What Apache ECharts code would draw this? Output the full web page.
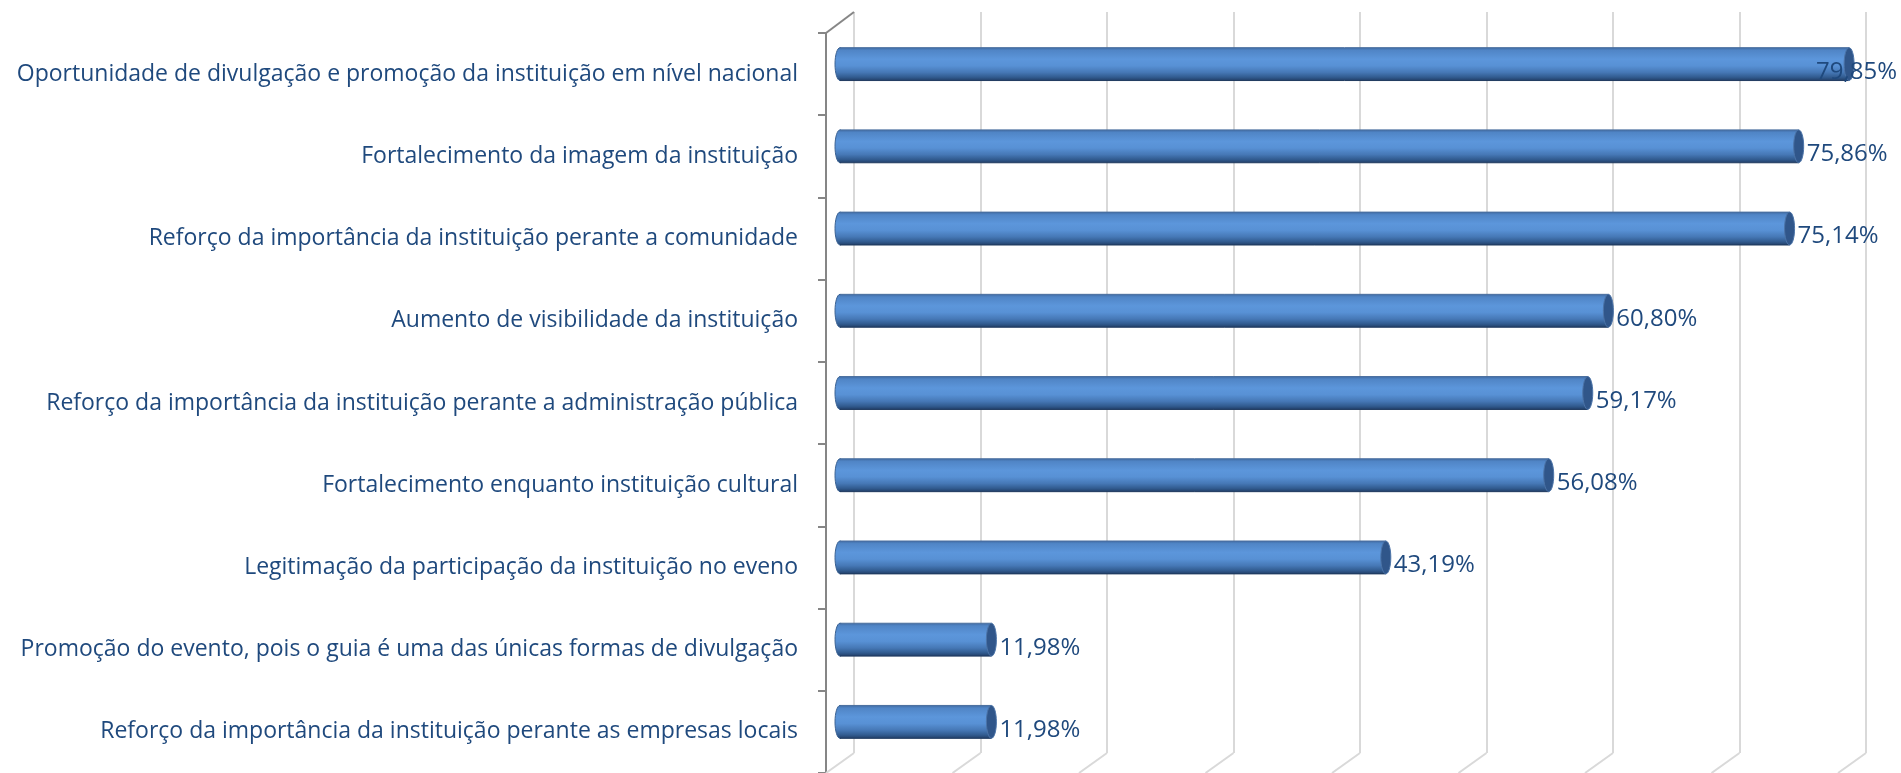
<!DOCTYPE html>
<html>
<head>
<meta charset="utf-8">
<script src="https://cdn.jsdelivr.net/npm/echarts@6/dist/echarts.min.js"></script>
<style>
  html, body { margin: 0; padding: 0; background: #ffffff; }
  #chart { width: 1901px; height: 773px; }
</style>
</head>
<body>
<div id="chart"></div>
<script>
const categories = [
  'Oportunidade de divulgação e promoção da instituição em nível nacional',
  'Fortalecimento da imagem da instituição',
  'Reforço da importância da instituição perante a comunidade',
  'Aumento de visibilidade da instituição',
  'Reforço da importância da instituição perante a administração pública',
  'Fortalecimento enquanto instituição cultural',
  'Legitimação da participação da instituição no eveno',
  'Promoção do evento, pois o guia é uma das únicas formas de divulgação',
  'Reforço da importância da instituição perante as empresas locais'
];
const percentValues = [79.85, 75.86, 75.14, 60.80, 59.17, 56.08, 43.19, 11.98, 11.98];
const gridTicks = [0, 10, 20, 30, 40, 50, 60, 70, 80];

const TEXT_COLOR = '#1f497d';
const FONT_SIZE = 23;
const VALUE_FONT = '24px "Open Sans"';
const DEPTH_X = 28;
const DEPTH_Y = 20;

const measureCtx = document.createElement('canvas').getContext('2d');
function textWidth(text) {
  measureCtx.font = VALUE_FONT;
  return measureCtx.measureText(text).width;
}

function formatPct(v) {
  return v.toFixed(2).replace('.', ',') + '%';
}

const cylinderFill = {
  type: 'linear', x: 0, y: 0, x2: 0, y2: 1,
  colorStops: [
    { offset: 0, color: '#416ca4' },
    { offset: 0.08, color: '#5085c6' },
    { offset: 0.35, color: '#5c96db' },
    { offset: 0.55, color: '#5891d5' },
    { offset: 0.75, color: '#4678b6' },
    { offset: 0.9, color: '#315b8f' },
    { offset: 1, color: '#223f68' }
  ]
};

function renderFloor(params, api) {
  const v = api.value(0);
  const cs = params.coordSys;
  const x = api.coord([v, 0])[0];
  const bottom = cs.y + cs.height;
  const children = [{
    type: 'line',
    shape: { x1: x, y1: bottom, x2: x - DEPTH_X, y2: bottom + DEPTH_Y },
    style: { stroke: '#d9d9d9', lineWidth: 2 }
  }];
  if (v === 0) {
    children.push({
      type: 'line',
      shape: { x1: x, y1: cs.y, x2: x - DEPTH_X, y2: cs.y + 21 },
      style: { stroke: '#868686', lineWidth: 2 }
    });
  }
  return { type: 'group', children };
}

function renderCylinder(params, api) {
  const val = api.value(0);
  const idx = api.value(1);
  const start = api.coord([0, idx]);
  const end = api.coord([val, idx]);
  const h = api.size([0, 1])[1] * 0.4;
  const x0 = start[0];
  const x1 = end[0];
  const yc = start[1];
  const top = yc - h / 2;
  const label = formatPct(val);
  const w = textWidth(label);
  let lx = x1 + 8;
  if (lx + w > api.getWidth() - 4) lx = api.getWidth() - 4 - w;

  return {
    type: 'group',
    children: [
      {
        type: 'ellipse',
        shape: { cx: x0, cy: yc, rx: 5, ry: h / 2 },
        style: { fill: cylinderFill, stroke: '#3a6192', lineWidth: 1 }
      },
      {
        type: 'rect',
        shape: { x: x0, y: top, width: x1 - x0, height: h },
        style: { fill: cylinderFill }
      },
      {
        type: 'line',
        shape: { x1: x0, y1: top, x2: x1, y2: top },
        style: { stroke: '#4a6f9f', lineWidth: 1 }
      },
      {
        type: 'line',
        shape: { x1: x0, y1: top + h, x2: x1, y2: top + h },
        style: { stroke: '#1f3a5f', lineWidth: 1 }
      },
      {
        type: 'ellipse',
        shape: { cx: x1, cy: yc, rx: 5, ry: h / 2 },
        style: { fill: '#30568a', stroke: '#4c74a8', lineWidth: 1 }
      },
      {
        type: 'text',
        style: {
          text: label,
          x: lx,
          y: yc + 8,
          align: 'left',
          verticalAlign: 'middle',
          fill: TEXT_COLOR,
          font: VALUE_FONT
        }
      }
    ]
  };
}

const chart = echarts.init(document.getElementById('chart'), null, { renderer: 'canvas' });

chart.setOption({
  animation: false,
  grid: [
    { left: 854, right: 35, top: 12, bottom: 20 },
    { left: 826, right: 35, top: 33, bottom: 0 },
    { left: 840, right: 50, top: 23, bottom: 10 }
  ],
  xAxis: [
    {
      gridIndex: 0, type: 'value', min: 0, max: 80, interval: 10,
      axisLine: { show: false }, axisTick: { show: false }, axisLabel: { show: false },
      splitLine: { show: true, lineStyle: { color: '#d9d9d9', width: 2 } }
    },
    {
      gridIndex: 1, type: 'value', min: 0, max: 80, show: false
    },
    {
      gridIndex: 2, type: 'value', min: 0, max: 80, show: false
    }
  ],
  yAxis: [
    {
      gridIndex: 0, type: 'category', data: categories, inverse: true,
      axisLine: { show: false }, axisTick: { show: false }, axisLabel: { show: false },
      splitLine: { show: false }
    },
    {
      gridIndex: 1, type: 'category', data: categories, inverse: true,
      axisLine: { show: true, lineStyle: { color: '#868686', width: 2 } },
      axisTick: { show: true, length: 8, lineStyle: { color: '#868686', width: 2 } },
      axisLabel: {
        margin: 28, color: TEXT_COLOR, fontFamily: 'Open Sans', fontSize: FONT_SIZE,
        padding: [7, 0, 0, 0]
      },
      splitLine: { show: false }
    },
    {
      gridIndex: 2, type: 'category', data: categories, inverse: true, show: false
    }
  ],
  series: [
    {
      type: 'custom',
      name: 'floor',
      xAxisIndex: 0,
      yAxisIndex: 0,
      renderItem: renderFloor,
      data: gridTicks.map((t) => [t, 0]),
      silent: true
    },
    {
      type: 'custom',
      name: 'Percentual',
      xAxisIndex: 2,
      yAxisIndex: 2,
      renderItem: renderCylinder,
      encode: { x: 0, y: 1 },
      data: percentValues.map((v, i) => [v, i])
    }
  ]
});
</script>
</body>
</html>
